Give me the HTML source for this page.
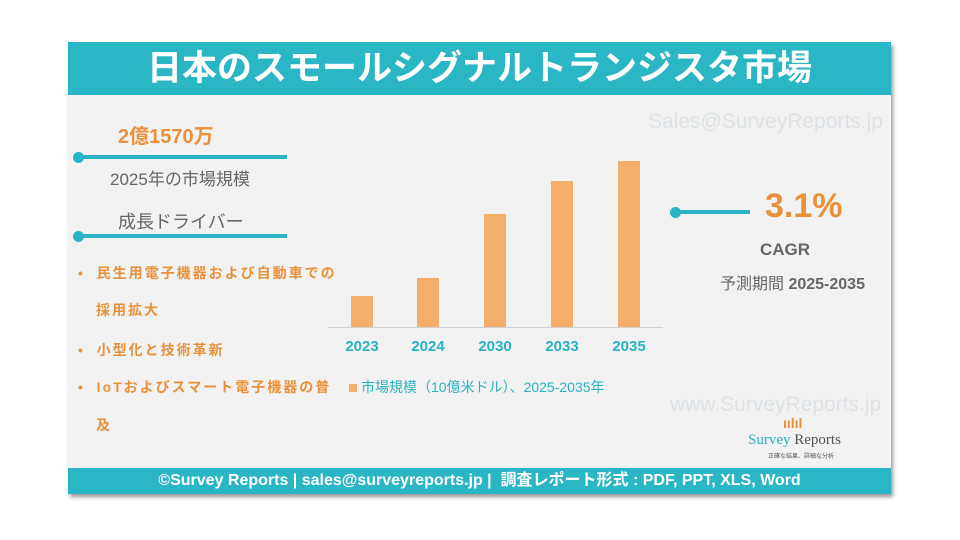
<!DOCTYPE html>
<html><head><meta charset="utf-8"><style>
body{margin:0;width:960px;height:540px;background:#fff;position:relative;font-family:"Liberation Sans","Noto Sans CJK JP",sans-serif;overflow:hidden}
.a{position:absolute;white-space:nowrap}
.card{position:absolute;left:68px;top:42px;width:823px;height:452px;background:#f2f2f2;box-shadow:2px 3px 4px #999;overflow:hidden}
.bar{position:absolute;width:22px;background:#f4b06a}
.yr{position:absolute;top:338px;color:#2ab3c2;font-weight:bold;font-size:15px;width:60px;text-align:center}
.dot{position:absolute;width:11px;height:11px;border-radius:50%;background:#2ab3c2}
.ln{position:absolute;height:4px;background:#2ab3c2}
.or{color:#e8913a;font-weight:bold;font-size:14px;letter-spacing:2px}
</style></head><body>
<div class="card">
<div class="a" style="left:580px;top:68px;color:#dde2e6;font-size:21px">Sales@SurveyReports.jp</div>
<div class="a" style="left:602px;top:351px;color:#dde2e6;font-size:21px">www.SurveyReports.jp</div>
</div>
<div class="a" style="left:68px;top:42px;width:823px;height:53px;background:#2ab6c4;color:#fff;font-size:35px;text-align:center;line-height:53px;font-weight:bold">日本のスモールシグナルトランジスタ市場</div>
<div class="a" style="left:118px;top:120px;color:#e8913a;font-weight:bold;font-size:20px">2億1570万</div>
<div class="dot" style="left:73px;top:152px"></div><div class="ln" style="left:78px;top:155px;width:209px"></div>
<div class="a" style="left:110px;top:165px;color:#666;font-size:17px">2025年の市場規模</div>
<div class="a" style="left:118px;top:208px;color:#666;font-size:18px">成長ドライバー</div>
<div class="dot" style="left:73px;top:231px"></div><div class="ln" style="left:78px;top:234px;width:209px"></div>
<div class="a or" style="left:78px;top:263px">•&nbsp; 民生用電子機器および自動車での</div>
<div class="a or" style="left:96px;top:300px">採用拡大</div>
<div class="a or" style="left:78px;top:340px">•&nbsp; 小型化と技術革新</div>
<div class="a or" style="left:78px;top:377px">•&nbsp; IoTおよびスマート電子機器の普</div>
<div class="a or" style="left:96px;top:415px">及</div>
<div class="a" style="left:328px;top:327px;width:335px;height:1px;background:#d0d0d0"></div>
<div class="bar" style="left:351px;top:296px;height:31px"></div>
<div class="bar" style="left:417px;top:278px;height:49px"></div>
<div class="bar" style="left:484px;top:214px;height:113px"></div>
<div class="bar" style="left:551px;top:181px;height:146px"></div>
<div class="bar" style="left:618px;top:161px;height:166px"></div>
<div class="yr" style="left:332px">2023</div><div class="yr" style="left:398px">2024</div><div class="yr" style="left:465px">2030</div><div class="yr" style="left:532px">2033</div><div class="yr" style="left:599px">2035</div>
<div class="a" style="left:349px;top:377px;color:#2ab3c2;font-size:14px"><span style="display:inline-block;width:8px;height:8px;background:#f4b06a;margin-right:4px"></span>市場規模（10億米ドル）、2025-2035年</div>
<div class="dot" style="left:670px;top:207px"></div><div class="ln" style="left:675px;top:210px;width:75px"></div>
<div class="a" style="left:765px;top:187px;color:#e8913a;font-weight:bold;font-size:34px">3.1%</div>
<div class="a" style="left:760px;top:240px;color:#666;font-weight:bold;font-size:17px">CAGR</div>
<div class="a" style="left:720px;top:270px;color:#666;font-size:16px">予測期間 <b>2025-2035</b></div>
<div class="a" style="left:783px;top:415px;color:#e8913a;font-size:14px;font-weight:bold">ıılıl</div>
<div class="a" style="left:748px;top:432px;font-family:'Liberation Serif',serif;font-size:15px"><span style="color:#2ab3c2">Survey</span> <span style="color:#555">Reports</span></div>
<div class="a" style="left:768px;top:451px;font-size:6px;color:#555">正確な結果、詳細な分析</div>
<div class="a" style="left:68px;top:468px;width:823px;height:26px;background:#2ab6c4;color:#fff;font-size:16px;font-weight:bold;text-align:center;line-height:26px">©Survey Reports | sales@surveyreports.jp |&nbsp; 調査レポート形式 : PDF, PPT, XLS, Word</div>
</body></html>
